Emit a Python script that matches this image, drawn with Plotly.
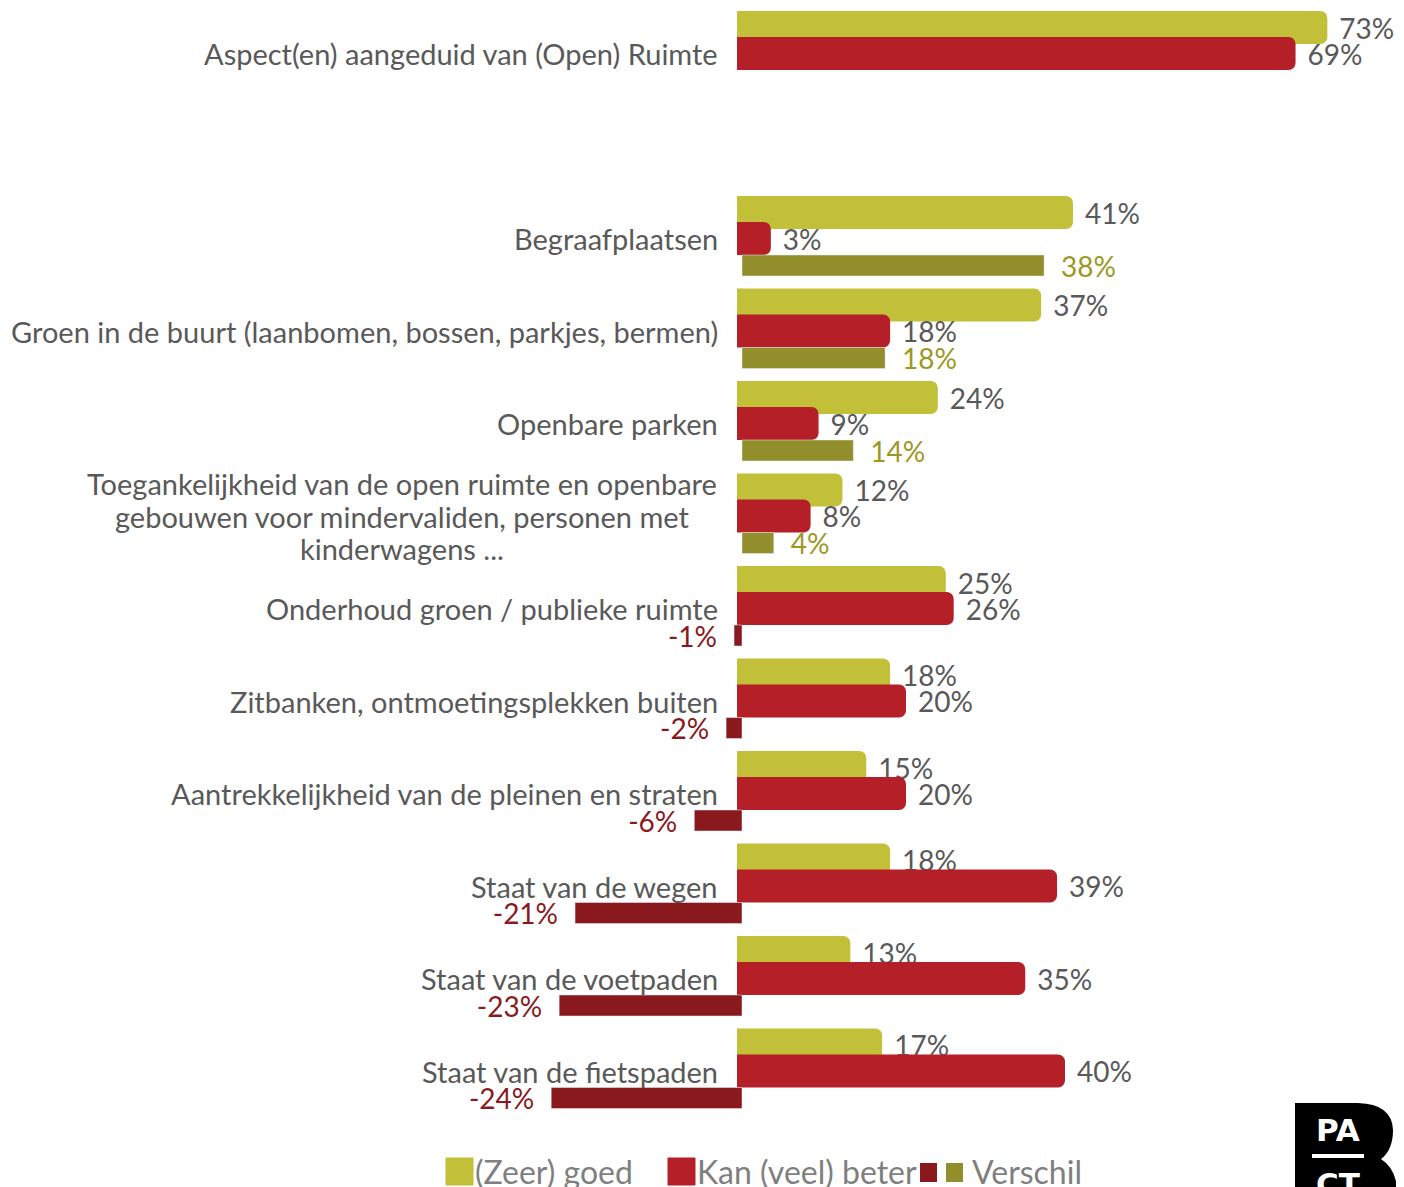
import plotly.graph_objects as go

# Rows top to bottom; the empty string is the blank spacer row
categories = [
    "Aspect(en) aangeduid van (Open) Ruimte",
    "",
    "Begraafplaatsen",
    "Groen in de buurt (laanbomen, bossen, parkjes, bermen)",
    "Openbare parken",
    "Toegankelijkheid van de open ruimte en openbare<br>gebouwen voor mindervaliden, personen met<br>kinderwagens ...",
    "Onderhoud groen / publieke ruimte",
    "Zitbanken, ontmoetingsplekken buiten",
    "Aantrekkelijkheid van de pleinen en straten",
    "Staat van de wegen",
    "Staat van de voetpaden",
    "Staat van de fietspaden",
]
goed = [73, None, 41, 37, 24, 12, 25, 18, 15, 18, 13, 17]
beter = [69, None, 3, 18, 9, 8, 26, 20, 20, 39, 35, 40]
verschil = [None, None, 38, 18, 14, 4, -1, -2, -6, -21, -23, -24]
legend_names = ["(Zeer) goed", "Kan (veel) beter", "Verschil"]

# colours
GOED = "#C2BF38"
BETER = "#B52028"
POS = "#928E2B"
NEG = "#8A191E"
POS_TXT = "#9C9824"
TEXT = "#595959"
LEG_TXT = "#7F7F7F"
FONT = "Lato"
NUM_SIZE = 28

# the page body has an 8px margin, so the figure is a bit smaller than the window
OFF = 8
W, H = 1404 - OFF, 1187 - OFF
ML, MR, MT, MB = 416, 26, 0, 70
PW, PH = W - ML - MR, H - MT - MB
ROW0, ROWH = 53.5 - OFF, 92.5   # centre of first row and row pitch (px)


def px(x):
    # window x (px) -> paper x
    return (x - OFF - ML) / PW


def py(y):
    # window y (px) -> paper y
    return 1 - (y - OFF - MT) / PH


rows = list(range(len(categories)))
SP = "\u2002"

fig = go.Figure()

fig.add_trace(go.Bar(
    y=rows, x=goed, orientation="h",
    offset=-0.405, width=0.249,
    marker=dict(color=GOED, line=dict(color=GOED, width=10), cornerradius=2),
    text=["" if v is None else f"{SP}{v}%" for v in goed],
    textposition="outside", constraintext="none", cliponaxis=False,
    textfont=dict(family=FONT, size=NUM_SIZE, color=TEXT),
    hoverinfo="skip",
))
fig.add_trace(go.Bar(
    y=rows, x=beter, orientation="h",
    offset=-0.1245, width=0.249,
    marker=dict(color=BETER, line=dict(color=BETER, width=10), cornerradius=2),
    text=["" if v is None else f"{SP}{v}%" for v in beter],
    textposition="outside", constraintext="none", cliponaxis=False,
    textfont=dict(family=FONT, size=NUM_SIZE, color=TEXT),
    hoverinfo="skip",
))
fig.add_trace(go.Bar(
    y=rows, x=verschil, orientation="h",
    offset=0.1785, width=0.227,
    marker=dict(color=[NEG if (v is not None and v < 0) else POS for v in verschil]),
    text=["" if v is None else (f"{v}%{SP}" if v < 0 else f"{SP}{v}%") for v in verschil],
    textposition="outside", constraintext="none", cliponaxis=False,
    textfont=dict(family=FONT, size=NUM_SIZE,
                  color=[NEG if (v is not None and v < 0) else POS_TXT for v in verschil]),
    hoverinfo="skip",
))

# category labels, right aligned against the zero line;
# the wrapped one is set line by line (centred) to keep the tight line pitch
for r, cat in zip(rows, categories):
    if not cat:
        continue
    lines = cat.split("<br>")
    if len(lines) == 1:
        fig.add_annotation(
            x=0, y=r, xref="x", yref="y", text=cat, showarrow=False,
            xanchor="right", yanchor="middle", xshift=-22,
            font=dict(family=FONT, size=29, color=TEXT),
        )
    else:
        for i, line in enumerate(lines):
            fig.add_annotation(
                x=px(402), y=r, xref="paper", yref="y", text=line, showarrow=False,
                xanchor="center", yanchor="middle",
                yshift=-(i - (len(lines) - 1) / 2) * 32.5,
                font=dict(family=FONT, size=29, color=TEXT),
            )

# legend drawn by hand (big square swatches)
LEG_Y = 1171
fig.add_shape(type="rect", xref="paper", yref="paper", x0=px(446), x1=px(473),
              y0=py(1158), y1=py(1185), fillcolor=GOED, line=dict(color=GOED, width=1))
fig.add_shape(type="rect", xref="paper", yref="paper", x0=px(668), x1=px(695),
              y0=py(1158), y1=py(1185), fillcolor=BETER, line=dict(color=BETER, width=1))
fig.add_shape(type="rect", xref="paper", yref="paper", x0=px(920), x1=px(937),
              y0=py(1163), y1=py(1182), fillcolor=NEG, line=dict(width=0))
fig.add_shape(type="rect", xref="paper", yref="paper", x0=px(946), x1=px(963),
              y0=py(1163), y1=py(1182), fillcolor=POS, line=dict(width=0))
for name, x0 in zip(legend_names, [473, 695, 970]):
    fig.add_annotation(
        x=px(x0), y=py(LEG_Y), xref="paper", yref="paper", text=name, showarrow=False,
        xanchor="left", yanchor="middle", font=dict(family=FONT, size=32, color=LEG_TXT),
    )

# PACT logo (bottom right, cut off by the page edge)
logo_path = (
    f"M {px(1295)},{py(1103)} L {px(1358)},{py(1103)} "
    f"Q {px(1392)},{py(1104)} {px(1393)},{py(1130)} "
    f"Q {px(1393)},{py(1150)} {px(1381)},{py(1159)} "
    f"Q {px(1398)},{py(1170)} {px(1397)},{py(1195)} "
    f"L {px(1295)},{py(1195)} Z"
)
fig.add_shape(type="path", xref="paper", yref="paper", path=logo_path,
              fillcolor="black", line=dict(width=0))
fig.add_shape(type="rect", xref="paper", yref="paper", x0=px(1312), x1=px(1364),
              y0=py(1154), y1=py(1158), fillcolor="white", line=dict(width=0))
for t, yy in [("PA", 1130), ("CT", 1184)]:
    fig.add_annotation(
        x=px(1338), y=py(yy), xref="paper", yref="paper", text=f"<b>{t}</b>",
        showarrow=False, xanchor="center", yanchor="middle",
        font=dict(family="DejaVu Sans", size=31, color="white"),
    )

fig.update_layout(
    width=W, height=H,
    margin=dict(l=ML, r=MR, t=MT, b=MB, pad=0),
    barmode="overlay",
    showlegend=False,
    plot_bgcolor="white", paper_bgcolor="white",
    font=dict(family=FONT, color=TEXT),
    xaxis=dict(range=[-40, 80], visible=False, fixedrange=True),
    yaxis=dict(range=[(PH - ROW0) / ROWH, -ROW0 / ROWH], visible=False, fixedrange=True),
)

fig.write_html("out.html")
